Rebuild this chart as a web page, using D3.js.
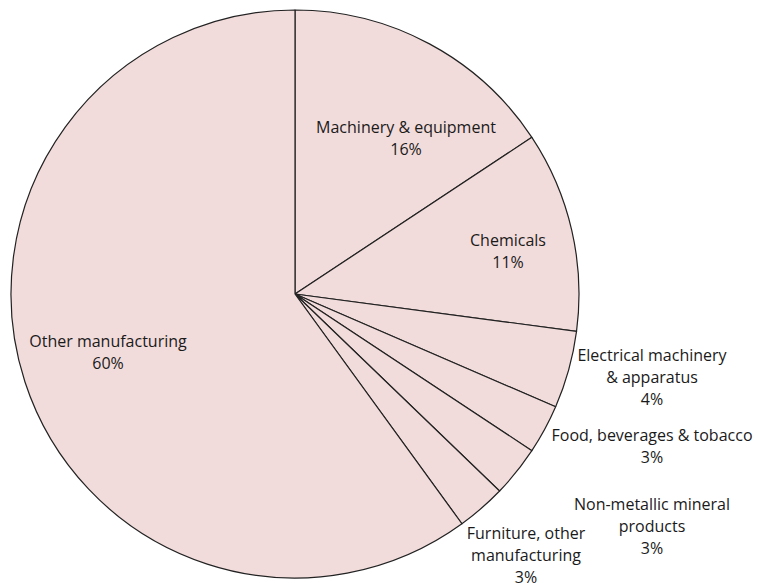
<!DOCTYPE html>
<html lang="en">
<head>
    <meta charset="UTF-8">
    <title>Manufacturing by sector</title>
    <script src="https://d3js.org/d3.v7.min.js"></script>
    <style>
        body { margin: 0; background: #fff; }
        text { font-family: "Open Sans", sans-serif; font-size: 16px; fill: #1a1a1a; }
    </style>
</head>
<body>
    <svg id="pie" width="758" height="583"></svg>

    <script>
        // Sectors, clockwise from 12 o'clock
        const categories = ["Machinery & equipment", "Chemicals", "Electrical machinery & apparatus",
                            "Food, beverages & tobacco", "Non-metallic mineral products",
                            "Furniture, other manufacturing", "Other manufacturing"];
        const shares = [15.7, 11.4, 4.4, 2.8, 2.9, 2.8, 60.0];
        const labelLines = [
            ["Machinery & equipment"],
            ["Chemicals"],
            ["Electrical machinery", "& apparatus"],
            ["Food, beverages & tobacco"],
            ["Non-metallic mineral", "products"],
            ["Furniture, other", "manufacturing"],
            ["Other manufacturing"]
        ];

        // label anchors (centre of first line), chosen by hand like excel's "best fit"
        const labelAt = [[406, 127], [508, 240], [652, 355], [652, 435], [652, 504], [526, 533], [108, 341]];

        const cx = 295, cy = 294, r = 284;
        const svg = d3.select("#pie");
        const g = svg.append("g").attr("transform", `translate(${cx},${cy})`);

        const data = categories.map((c, i) => ({name: c, value: shares[i], lines: labelLines[i]}));

        const pie = d3.pie().sort(null).value(d => d.value);
        const arc = d3.arc().innerRadius(0).outerRadius(r);

        g.selectAll("path")
         .data(pie(data))
         .join("path")
         .attr("d", arc)
         .attr("fill", "#f2dcdb")
         .attr("stroke", "#222")
         .attr("stroke-width", 1.2)
         .attr("stroke-linejoin", "round");

        const total = d3.sum(shares);
        const lineH = 22;
        const labels = svg.append("g");
        data.forEach((d, i) => {
            const [x, y] = labelAt[i];
            const lines = d.lines.concat([Math.round(d.value / total * 100) + "%"]);
            const t = labels.append("text")
                            .attr("text-anchor", "middle")
                            .attr("x", x)
                            .attr("y", y);
            lines.forEach((s, k) => {
                t.append("tspan")
                 .attr("x", x)
                 .attr("y", y + k * lineH)
                 .attr("dy", "0.35em")
                 .text(s);
            });
        });
    </script>
</body>
</html>
